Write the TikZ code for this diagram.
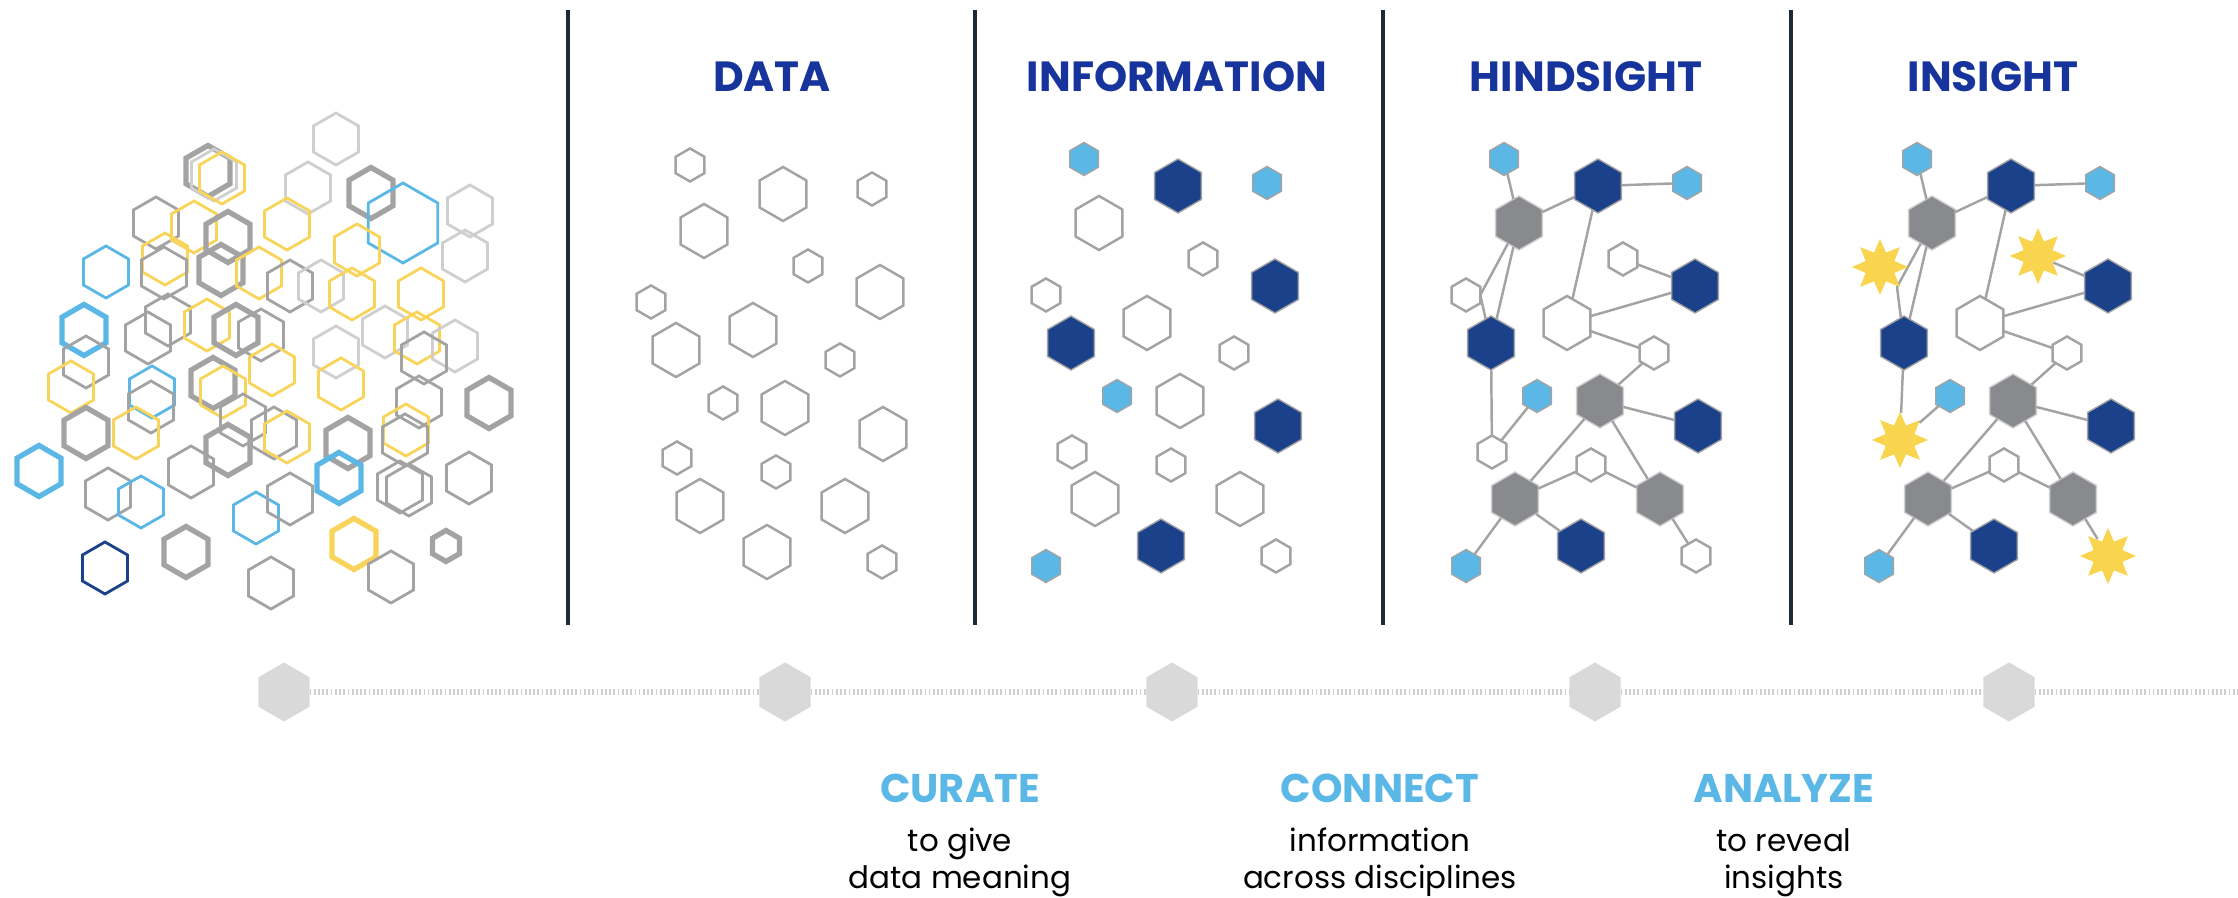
\documentclass[tikz,border=0pt]{standalone}
\usepackage{fontspec}
\setmainfont{Poppins}
\usetikzlibrary{shapes.geometric}

\definecolor{hexgray}{HTML}{A3A3A3}
\definecolor{hexlight}{HTML}{CFCFCF}
\definecolor{hexyellow}{HTML}{F9D45A}
\definecolor{hexblue}{HTML}{5BB8E6}
\definecolor{hexnavy}{HTML}{1B418B}
\definecolor{hexdark}{HTML}{898A8D}
\definecolor{titleblue}{HTML}{16349B}
\definecolor{rulecolor}{HTML}{1F2A38}
\definecolor{stepgray}{HTML}{D9D9D9}
\definecolor{staryellow}{HTML}{F9D44F}

\tikzset{
  hex/.style={regular polygon, regular polygon sides=6, shape border rotate=30,
    inner sep=0pt, outer sep=0pt},
  cthin/.style={hex, draw, line width=0.8pt, minimum size=0.52cm},
  cthick/.style={hex, draw, line width=1.5pt, minimum size=0.51cm},
  smallhex/.style={hex, minimum size=0.33cm},
  largehex/.style={hex, minimum size=0.54cm},
  openhex/.style={draw=hexgray, line width=0.7pt, fill=white},
  navyhex/.style={draw=hexgray, line width=0.4pt, fill=hexnavy},
  bluehex/.style={draw=hexgray, line width=0.4pt, fill=hexblue},
  grayhex/.style={draw=hexlight, line width=0.4pt, fill=hexdark},
  starnode/.style={star, star points=8, star point ratio=1.8, inner sep=0pt,
    minimum size=0.56cm, fill=staryellow},
  link/.style={draw=hexgray, line width=0.7pt},
  divider/.style={draw=rulecolor, line width=0.9pt},
  stephex/.style={hex, fill=stepgray, minimum size=0.59cm},
  dotline/.style={draw=stepgray!90!gray, line width=1.5pt, dash pattern=on 0.5pt off 0.7pt},
  heading/.style={anchor=base, text=titleblue, font=\bfseries\fontsize{12}{14}\selectfont},
  stepname/.style={anchor=base, text=hexblue, font=\bfseries\fontsize{11.4}{13}\selectfont},
  stepnote/.style={anchor=base, align=center, font=\fontsize{8.8}{10.6}\selectfont}
}

\begin{document}
\begin{tikzpicture}[x=0.01cm, y=-0.01cm]
\path[use as bounding box] (0,0) rectangle (2238,898);

% scattered hexagons
\node[cthin, draw=hexlight] (c1) at (336,139) {};
\node[cthick, draw=hexgray] (c2) at (208,171) {};
\node[cthin, draw=hexlight] (c3) at (214,175) {};
\node[cthin, draw=hexyellow] (c4) at (222,178) {};
\node[cthin, draw=hexlight] (c5) at (308,188) {};
\node[cthick, draw=hexgray] (c6) at (371,193) {};
\node[cthin, draw=hexblue, minimum size=0.80cm] (c7) at (403,223) {};
\node[cthin, draw=hexlight] (c8) at (470,211) {};
\node[cthin, draw=hexgray] (c9) at (156,223) {};
\node[cthin, draw=hexyellow] (c10) at (194,227) {};
\node[cthick, draw=hexgray] (c11) at (228,237) {};
\node[cthin, draw=hexyellow] (c12) at (287,224) {};
\node[cthin, draw=hexyellow] (c13) at (357,250) {};
\node[cthin, draw=hexlight] (c14) at (465,256) {};
\node[cthin, draw=hexblue] (c15) at (106,272) {};
\node[cthin, draw=hexyellow] (c16) at (165,259) {};
\node[cthin, draw=hexgray] (c17) at (164,273) {};
\node[cthick, draw=hexgray] (c18) at (221,270) {};
\node[cthin, draw=hexyellow] (c19) at (259,273) {};
\node[cthin, draw=hexgray] (c20) at (290,286) {};
\node[cthin, draw=hexlight] (c21) at (321,286) {};
\node[cthin, draw=hexyellow] (c22) at (352,294) {};
\node[cthin, draw=hexyellow] (c23) at (421,294) {};
\node[cthick, draw=hexblue] (c24) at (84,330) {};
\node[cthin, draw=hexgray] (c25) at (86,362) {};
\node[cthin, draw=hexgray] (c26) at (148,338) {};
\node[cthin, draw=hexgray] (c27) at (168,320) {};
\node[cthin, draw=hexyellow] (c28) at (207,325) {};
\node[cthick, draw=hexgray] (c29) at (236,330) {};
\node[cthin, draw=hexgray] (c30) at (261,335) {};
\node[cthin, draw=hexlight] (c31) at (336,352) {};
\node[cthin, draw=hexlight] (c32) at (385,332) {};
\node[cthin, draw=hexyellow] (c33) at (417,338) {};
\node[cthin, draw=hexlight] (c34) at (455,346) {};
\node[cthin, draw=hexgray] (c35) at (424,358) {};
\node[cthin, draw=hexyellow] (c36) at (71,387) {};
\node[cthin, draw=hexblue] (c37) at (152,392) {};
\node[cthin, draw=hexgray] (c38) at (151,407) {};
\node[cthick, draw=hexgray] (c39) at (213,383) {};
\node[cthin, draw=hexyellow] (c40) at (223,392) {};
\node[cthin, draw=hexyellow] (c41) at (272,370) {};
\node[cthin, draw=hexyellow] (c42) at (341,384) {};
\node[cthin, draw=hexgray] (c43) at (419,402) {};
\node[cthick, draw=hexgray] (c44) at (489,403) {};
\node[cthick, draw=hexgray] (c45) at (86,433) {};
\node[cthin, draw=hexyellow] (c46) at (136,433) {};
\node[cthin, draw=hexgray] (c47) at (243,420) {};
\node[cthin, draw=hexgray] (c48) at (274,433) {};
\node[cthin, draw=hexyellow] (c49) at (287,437) {};
\node[cthick, draw=hexgray] (c50) at (228,450) {};
\node[cthick, draw=hexgray] (c51) at (348,443) {};
\node[cthin, draw=hexyellow] (c52) at (406,430) {};
\node[cthin, draw=hexgray] (c53) at (405,440) {};
\node[cthick, draw=hexblue] (c54) at (39,471) {};
\node[cthin, draw=hexgray] (c55) at (108,494) {};
\node[cthin, draw=hexblue] (c56) at (141,502) {};
\node[cthin, draw=hexgray] (c57) at (191,472) {};
\node[cthin, draw=hexblue] (c58) at (256,518) {};
\node[cthin, draw=hexgray] (c59) at (290,499) {};
\node[cthick, draw=hexblue] (c60) at (339,478) {};
\node[cthin, draw=hexgray] (c61) at (400,487) {};
\node[cthin, draw=hexgray] (c62) at (409,490) {};
\node[cthin, draw=hexgray] (c63) at (469,478) {};
\node[cthin, draw=hexnavy] (c64) at (105,568) {};
\node[cthick, draw=hexgray] (c65) at (186,552) {};
\node[cthin, draw=hexgray] (c66) at (271,583) {};
\node[cthick, draw=hexyellow] (c67) at (354,544) {};
\node[cthin, draw=hexgray] (c68) at (391,577) {};
\node[cthick, draw=hexgray, minimum size=0.31cm] (c69) at (446,546) {};

% dividers
\draw[divider] (568,10) -- (568,625);
\draw[divider] (975,10) -- (975,625);
\draw[divider] (1383,10) -- (1383,625);
\draw[divider] (1791,10) -- (1791,625);

% headings
\node[heading] (data) at (772,92) {DATA};
\node[heading] (information) at (1177,92) {INFORMATION};
\node[heading] (hindsight) at (1586,92) {HINDSIGHT};
\node[heading] (insight) at (1993,92) {INSIGHT};

% data
\node[smallhex, openhex] (d1) at (690,165) {};
\node[largehex, openhex] (d2) at (783,194) {};
\node[smallhex, openhex] (d3) at (872,189) {};
\node[largehex, openhex] (d4) at (704,231) {};
\node[smallhex, openhex] (d5) at (808,266) {};
\node[largehex, openhex] (d6) at (880,292) {};
\node[smallhex, openhex] (d7) at (651,302) {};
\node[largehex, openhex] (d8) at (676,350) {};
\node[largehex, openhex] (d9) at (753,330) {};
\node[smallhex, openhex] (d10) at (840,360) {};
\node[smallhex, openhex] (d11) at (723,403) {};
\node[largehex, openhex] (d12) at (785,408) {};
\node[largehex, openhex] (d13) at (883,434) {};
\node[smallhex, openhex] (d14) at (677,458) {};
\node[smallhex, openhex] (d15) at (776,472) {};
\node[largehex, openhex] (d16) at (700,506) {};
\node[largehex, openhex] (d17) at (845,506) {};
\node[largehex, openhex] (d18) at (767,552) {};
\node[smallhex, openhex] (d19) at (882,562) {};

% information
\node[smallhex, bluehex] (i1) at (1084,159) {};
\node[largehex, navyhex] (i2) at (1178,186) {};
\node[smallhex, bluehex] (i3) at (1267,183) {};
\node[largehex, openhex] (i4) at (1099,223) {};
\node[smallhex, openhex] (i5) at (1203,259) {};
\node[largehex, navyhex] (i6) at (1275,286) {};
\node[smallhex, openhex] (i7) at (1046,295) {};
\node[largehex, openhex] (i8) at (1147,323) {};
\node[largehex, navyhex] (i9) at (1071,343) {};
\node[smallhex, openhex] (i10) at (1234,353) {};
\node[smallhex, bluehex] (i11) at (1117,396) {};
\node[largehex, openhex] (i12) at (1180,401) {};
\node[largehex, navyhex] (i13) at (1278,426) {};
\node[smallhex, openhex] (i14) at (1072,452) {};
\node[smallhex, openhex] (i15) at (1171,465) {};
\node[largehex, openhex] (i16) at (1095,499) {};
\node[largehex, openhex] (i17) at (1240,499) {};
\node[largehex, navyhex] (i18) at (1161,546) {};
\node[smallhex, bluehex] (i19) at (1046,566) {};
\node[smallhex, openhex] (i20) at (1276,556) {};

% hindsight
\node[smallhex, bluehex] (h1) at (1504,159) {};
\node[largehex, navyhex] (h2) at (1598,186) {};
\node[smallhex, bluehex] (h3) at (1687,183) {};
\node[largehex, grayhex] (h4) at (1519,223) {};
\node[smallhex, openhex] (h5) at (1623,259) {};
\node[largehex, navyhex] (h6) at (1695,286) {};
\node[smallhex, openhex] (h7) at (1466,295) {};
\node[largehex, openhex] (h8) at (1567,323) {};
\node[largehex, navyhex] (h9) at (1491,343) {};
\node[smallhex, openhex] (h10) at (1654,353) {};
\node[smallhex, bluehex] (h11) at (1537,396) {};
\node[largehex, grayhex] (h12) at (1600,401) {};
\node[largehex, navyhex] (h13) at (1698,426) {};
\node[smallhex, openhex] (h14) at (1492,452) {};
\node[smallhex, openhex] (h15) at (1591,465) {};
\node[largehex, grayhex] (h16) at (1515,499) {};
\node[largehex, grayhex] (h17) at (1660,499) {};
\node[largehex, navyhex] (h18) at (1581,546) {};
\node[smallhex, bluehex] (h19) at (1466,566) {};
\node[smallhex, openhex] (h20) at (1696,556) {};

\draw[link] (h1) -- (h4);
\draw[link] (h4) -- (h2);
\draw[link] (h2) -- (h3);
\draw[link] (h4) -- (h7.east);
\draw[link] (h7.east) -- (h9);
\draw[link] (h4) -- (h9);
\draw[link] (h2) -- (h8);
\draw[link] (h5) -- (h6);
\draw[link] (h6) -- (h8);
\draw[link] (h8) -- (h10);
\draw[link] (h10) -- (h12);
\draw[link] (h12) -- (h13);
\draw[link] (h9) -- (h14);
\draw[link] (h14) -- (h11);
\draw[link] (h12) -- (h16);
\draw[link] (h12) -- (h17);
\draw[link] (h16) -- (h15);
\draw[link] (h15) -- (h17);
\draw[link] (h16) -- (h18);
\draw[link] (h16) -- (h19);
\draw[link] (h17) -- (h20);

% insight
\node[smallhex, bluehex] (s1) at (1917,159) {};
\node[largehex, navyhex] (s2) at (2011,186) {};
\node[smallhex, bluehex] (s3) at (2100,183) {};
\node[largehex, grayhex] (s4) at (1932,223) {};
\node[starnode] (s5) at (2038,256) {};
\node[largehex, navyhex] (s6) at (2108,286) {};
\coordinate (k7) at (1897,287);
\node[largehex, openhex] (s8) at (1980,323) {};
\node[largehex, navyhex] (s9) at (1904,343) {};
\node[smallhex, openhex] (s10) at (2067,353) {};
\node[smallhex, bluehex] (s11) at (1950,396) {};
\node[largehex, grayhex] (s12) at (2013,401) {};
\node[largehex, navyhex] (s13) at (2111,426) {};
\node[starnode] (s14) at (1900,440) {};
\node[smallhex, openhex] (s15) at (2004,465) {};
\node[largehex, grayhex] (s16) at (1928,499) {};
\node[largehex, grayhex] (s17) at (2073,499) {};
\node[largehex, navyhex] (s18) at (1994,546) {};
\node[smallhex, bluehex] (s19) at (1879,566) {};
\node[starnode] (s20) at (2108,556) {};

\draw[link] (s1) -- (s4);
\draw[link] (s4) -- (s2);
\draw[link] (s2) -- (s3);
\draw[link] (s4) -- (k7);
\draw[link] (k7) -- (s9);
\draw[link] (s4) -- (s9);
\draw[link] (s2) -- (s8);
\draw[link] (s5) -- (s6);
\draw[link] (s6) -- (s8);
\draw[link] (s8) -- (s10);
\draw[link] (s10) -- (s12);
\draw[link] (s12) -- (s13);
\draw[link] (s9) -- (s14);
\draw[link] (s14) -- (s11);
\draw[link] (s12) -- (s16);
\draw[link] (s12) -- (s17);
\draw[link] (s16) -- (s15);
\draw[link] (s15) -- (s17);
\draw[link] (s16) -- (s18);
\draw[link] (s16) -- (s19);
\draw[link] (s17) -- (s20);
\node[starnode] (s7) at (1880,267) {};

% timeline
\node[stephex] (t1) at (284,692) {};
\node[stephex] (t2) at (785,692) {};
\node[stephex] (t3) at (1172,692) {};
\node[stephex] (t4) at (1595,692) {};
\node[stephex] (t5) at (2009,692) {};
\coordinate (tend) at (2238,692);
\draw[dotline] (t1) -- (t2);
\draw[dotline] (t2) -- (t3);
\draw[dotline] (t3) -- (t4);
\draw[dotline] (t4) -- (t5);
\draw[dotline] (t5) -- (tend);

% steps
\node[stepname] (curate) at (960,803) {CURATE};
\node[stepnote] (curatenote) at (960,889) {to give\\data meaning};
\node[stepname] (connect) at (1380,803) {CONNECT};
\node[stepnote] (connectnote) at (1380,889) {information\\across disciplines};
\node[stepname] (analyze) at (1784,803) {ANALYZE};
\node[stepnote] (analyzenote) at (1784,889) {to reveal\\insights};

\end{tikzpicture}
\end{document}
